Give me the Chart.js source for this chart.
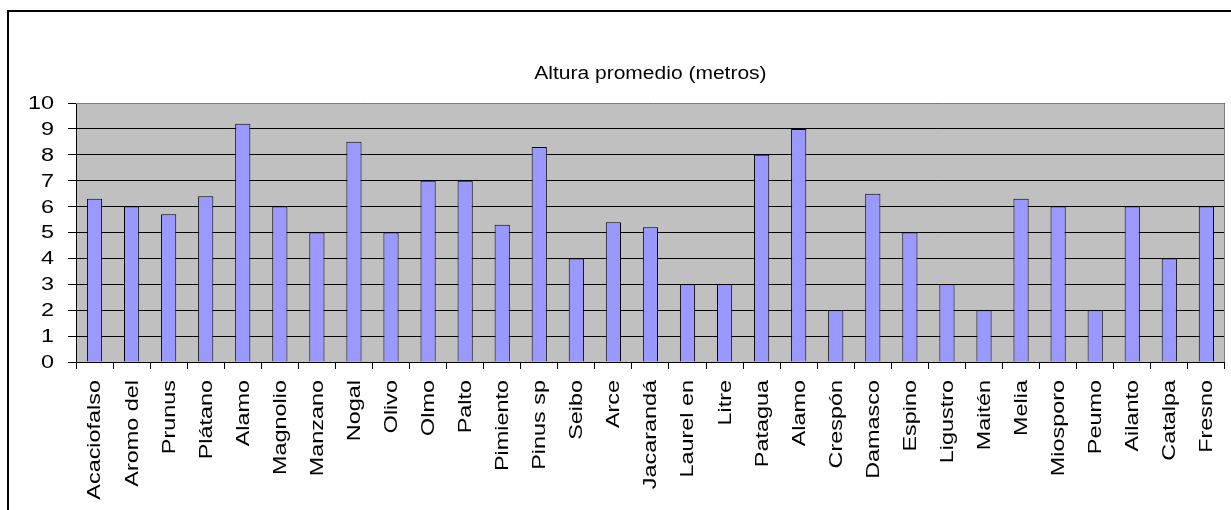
<!DOCTYPE html>
<html>
<head>
<meta charset="utf-8">
<script src="https://cdn.jsdelivr.net/npm/chart.js@4.4.1/dist/chart.umd.min.js"></script>
<style>
  html, body { margin: 0; padding: 0; background: #fff; }
  #wrap { position: relative; width: 1231px; height: 510px; }
</style>
</head>
<body>
<div id="wrap"><canvas id="c"></canvas></div>
<script>
const TITLE = 'Altura promedio (metros)';
const categories = ['Acaciofalso','Aromo del','Prunus','Plátano','Alamo','Magnolio','Manzano','Nogal','Olivo','Olmo','Palto','Pimiento','Pinus sp','Seibo','Arce','Jacarandá','Laurel en','Litre','Patagua','Alamo','Crespón','Damasco','Espino','Ligustro','Maitén','Melia','Miosporo','Peumo','Ailanto','Catalpa','Fresno'];
const heights = [6.3,6,5.7,6.4,9.2,6,5,8.5,5,7,7,5.3,8.3,4,5.4,5.2,3,3,8,9,2,6.5,5,3,2,6.3,6,2,6,4,6];
const yTickValues = [0,1,2,3,4,5,6,7,8,9,10];

const FONT = '"Liberation Sans", Arial, sans-serif';
const STRETCH = 1.3;

const excelLook = {
  id: 'excelLook',
  beforeDraw(chart) {
    const ctx = chart.ctx;
    const a = chart.chartArea;
    ctx.save();
    ctx.fillStyle = '#ffffff';
    ctx.fillRect(0, 0, chart.width, chart.height);
    // outer frame (left + top visible)
    ctx.strokeStyle = '#000';
    ctx.lineWidth = 2;
    ctx.beginPath();
    ctx.moveTo(8, chart.height + 5);
    ctx.lineTo(8, 11);
    ctx.lineTo(chart.width + 5, 11);
    ctx.stroke();
    // plot background
    ctx.fillStyle = '#C0C0C0';
    ctx.fillRect(a.left, a.top, a.right - a.left, a.bottom - a.top);
    ctx.restore();
  },
  afterDraw(chart) {
    const ctx = chart.ctx;
    const a = chart.chartArea;
    const xs = chart.scales.x, ys = chart.scales.y;
    ctx.save();
    // plot area top/right border in grey
    ctx.strokeStyle = '#808080';
    ctx.lineWidth = 1;
    ctx.beginPath();
    ctx.moveTo(a.left, Math.round(a.top) + 0.5);
    ctx.lineTo(Math.round(a.right) - 0.5, Math.round(a.top) + 0.5);
    ctx.lineTo(Math.round(a.right) - 0.5, a.bottom);
    ctx.stroke();

    ctx.fillStyle = '#000';
    // title
    ctx.font = '17.5px ' + FONT;
    ctx.textAlign = 'center';
    ctx.textBaseline = 'middle';
    ctx.save();
    ctx.translate((a.left + a.right) / 2, 74);
    ctx.scale(1.2, 1);
    ctx.fillText(TITLE, 0, 0);
    ctx.restore();

    // y labels
    ctx.font = '18px ' + FONT;
    ctx.textAlign = 'right';
    ctx.textBaseline = 'middle';
    yTickValues.forEach(v => {
      const y = ys.getPixelForValue(v);
      ctx.save();
      ctx.translate(54, y + 1);
      ctx.scale(STRETCH, 1);
      ctx.fillText(String(v), 0, 0);
      ctx.restore();
    });

    // x labels, rotated
    ctx.textAlign = 'right';
    ctx.textBaseline = 'middle';
    categories.forEach((lab, i) => {
      const x = xs.getPixelForValue(i);
      ctx.save();
      ctx.translate(x + 1, 380);
      ctx.rotate(-Math.PI / 2);
      ctx.scale(STRETCH, 1);
      ctx.fillText(lab, 0, 0);
      ctx.restore();
    });
    ctx.restore();
  }
};

new Chart(document.getElementById('c'), {
  type: 'bar',
  data: {
    labels: categories,
    datasets: [{
      label: TITLE,
      data: heights,
      backgroundColor: '#9999FF',
      borderColor: '#000000',
      borderWidth: 1,
      barPercentage: 0.41,
      categoryPercentage: 1.0
    }]
  },
  options: {
    responsive: true,
    maintainAspectRatio: false,
    animation: false,
    devicePixelRatio: 1,
    layout: { padding: { left: 0, right: 2, top: 103, bottom: 0 } },
    plugins: {
      legend: { display: false },
      title: { display: false, text: TITLE },
      tooltip: { enabled: false }
    },
    scales: {
      x: {
        type: 'category',
        offset: true,
        grid: { display: true, drawOnChartArea: false, drawTicks: true, tickLength: 7, color: '#000', offset: true },
        border: { display: true, color: '#000', width: 1 },
        ticks: { color: 'rgba(0,0,0,0)', maxRotation: 90, minRotation: 90, autoSkip: false, font: { family: FONT, size: 18 } },
        afterFit: s => { s.height = 148; }
      },
      y: {
        min: 0, max: 10,
        afterBuildTicks: s => { s.ticks = yTickValues.map(v => ({ value: v })); },
        grid: { color: '#000', tickColor: '#000', tickLength: 8, lineWidth: 1 },
        border: { display: true, color: '#000', width: 1 },
        ticks: { color: 'rgba(0,0,0,0)', font: { family: FONT, size: 18 } },
        afterFit: s => { s.width = 76; }
      }
    }
  },
  plugins: [excelLook]
});
</script>
</body>
</html>
